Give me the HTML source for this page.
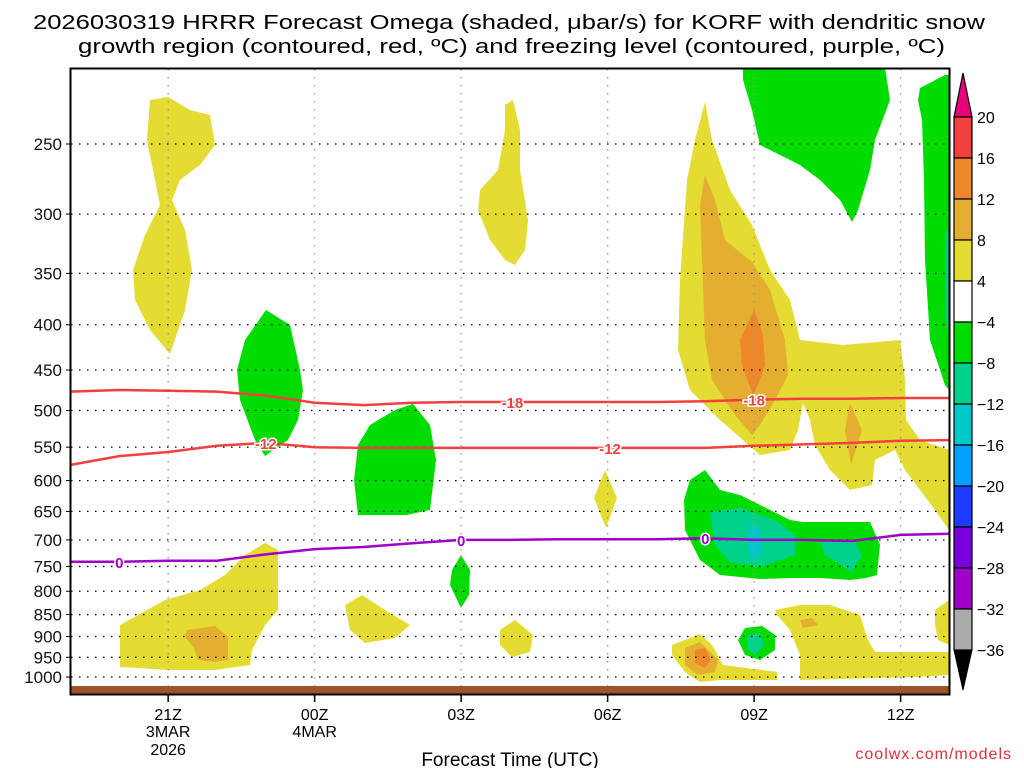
<!DOCTYPE html>
<html><head><meta charset="utf-8"><style>
html,body{margin:0;padding:0;background:#fff;}
svg{display:block;font-family:"Liberation Sans",sans-serif;}
</style></head><body>
<svg id="chart" width="1024" height="768" viewBox="0 0 1024 768" xmlns="http://www.w3.org/2000/svg">
<text x="33" y="29" font-size="20" textLength="952" lengthAdjust="spacingAndGlyphs">2026030319 HRRR Forecast Omega (shaded, μbar/s) for KORF with dendritic snow</text>
<text x="78" y="53" font-size="20" textLength="867" lengthAdjust="spacingAndGlyphs">growth region (contoured, red, ºC) and freezing level (contoured, purple, ºC)</text>
<g id="shades"></g>
<g id="grid"></g>
<g id="lines"></g>
<rect x="71" y="686" width="878" height="8" fill="#a0522d"/>
<rect x="70.5" y="68.5" width="879" height="626" fill="none" stroke="#000" stroke-width="2"/>
<g id="axes"></g>
<g id="cbar"></g>
<text x="510" y="766" font-size="19" text-anchor="middle">Forecast Time (UTC)</text>
<text x="1012" y="759" font-size="16" fill="#e0303a" text-anchor="end" letter-spacing="1">coolwx.com/models</text>
</svg>
<script>
const NS="http://www.w3.org/2000/svg";
// ---- data ----
const hours=[0,1,2,3,4,5,6,7,8,9,10,11,12,13,14,15,16,17,18]; // hours since 19Z
const isoM18=[476,474,475,476,481,490,493,490,489,489,489,489,489,488,486,485,485,484,484];
const isoM12=[576,563,557,548,544,550,551,551,551,551,551,551,551,551,548,546,544,541,540];
const frz0=[741,741,739,739,727,717,713,706,700,700,699,699,699,697,700,700,702,691,689];
const pTicks=[250,300,350,400,450,500,550,600,650,700,750,800,850,900,950,1000];
const xTickHours=[2,5,8,11,14,17];
const xTickLabels=["21Z","00Z","03Z","06Z","09Z","12Z"];
const xSubLabels=[["3MAR","2026"],["4MAR"],[],[],[],[]];
const cbLevels=[20,16,12,8,4,-4,-8,-12,-16,-20,-24,-28,-32,-36];
const cbColors=["#f04040","#ee862a","#e4ae30","#e4dc32","#ffffff","#00dc00","#00d28c","#00c8c8","#00a0ff","#1e3cff","#7800dc","#a000c8","#aaaaaa"];
// ---- axes ----
const X0=70.5,PXH=48.83;
const x=h=>X0+h*PXH;
const y=p=>144+Math.log(p/250)*384.5;
function el(t,a,parent){const e=document.createElementNS(NS,t);for(const k in a)e.setAttribute(k,a[k]);parent.appendChild(e);return e;}
// shading polygons (contoured field regions)
const Y="#e4dc32",DY="#e4ae30",OR="#ee862a",G="#00dc00",T="#00d28c",C="#00c8c8";
const shapes=[
[Y,"150,100 168,97 190,110 210,115 215,145 200,165 180,180 172,200 185,230 192,270 185,310 170,354 150,330 135,300 133,270 145,235 160,205 155,180 147,140"],
[Y,"505,105 513,100 520,130 520,170 528,220 525,250 515,265 505,260 490,240 478,210 480,190 498,170 505,130"],
[G,"266,310 290,325 300,370 303,390 298,420 288,440 265,456 255,440 240,400 237,370 245,340"],
[G,"413,404 430,425 436,460 430,510 406,515 358,515 354,480 358,445 370,425 395,410"],
[G,"461,555 470,570 469,595 461,608 450,585 452,570"],
[Y,"120,625 165,600 200,590 225,575 245,555 265,543 278,550 278,610 265,625 252,650 250,665 215,670 170,670 120,667"],
[DY,"187,630 215,626 228,637 228,660 215,662 198,660 194,648 185,637"],
[Y,"345,605 362,595 385,610 410,625 395,638 365,643 350,630"],
[Y,"500,630 515,620 533,635 530,652 512,657 500,645"],
[Y,"605,470 617,498 606,528 594,498"],
[G,"743,68 885,68 890,100 875,140 870,170 858,210 852,222 840,200 820,180 800,165 760,145 752,110 743,80"],
[G,"920,88 945,75 949,75 949,390 945,385 930,340 925,260 924,180 922,120 918,100"],
[T,"946,235 949,225 949,340 946,320"],
[Y,"705,102 712,140 730,190 752,225 770,270 790,300 800,340 843,345 900,340 905,380 906,420 920,440 949,450 949,530 935,510 920,490 905,470 895,450 875,460 872,485 850,490 830,470 815,445 810,420 803,403 798,430 790,450 760,455 720,420 690,390 678,350 680,280 687,180 695,140"],
[DY,"705,175 715,200 725,240 752,262 770,290 785,340 788,375 775,400 760,425 752,435 735,415 712,380 705,340 702,260 700,205"],
[OR,"754,310 763,335 765,365 758,385 753,395 742,365 740,340"],
[DY,"850,403 862,430 851,465 845,430"],
[G,"705,470 720,490 740,495 790,520 803,522 870,522 880,545 877,575 866,578 850,580 820,578 792,578 760,579 720,575 700,560 685,530 684,500 690,480"],
[T,"710,512 740,508 775,520 795,535 795,555 760,567 730,562 715,545"],
[C,"748,525 760,527 762,555 752,560 748,550"],
[T,"820,542 855,542 862,555 852,572 825,555"],
[Y,"775,610 800,605 830,605 860,615 868,640 875,652 949,652 949,675 915,677 800,680 800,655 790,630 777,615"],
[DY,"800,620 812,618 818,625 803,628"],
[Y,"935,610 949,600 949,645 938,640 935,625"],
[Y,"672,645 700,634 712,645 723,665 777,672 777,680 720,680 700,682 685,672 672,655"],
[DY,"685,648 700,642 718,660 715,672 698,675 685,665"],
[OR,"695,650 705,648 711,660 705,668 695,663"],
[G,"745,628 762,626 775,635 775,650 760,660 745,655 738,640"],
[T,"748,635 760,633 764,645 755,655 747,648"]
];
const sh=document.getElementById('shades');
shapes.forEach((s,i)=>{const p=el('polygon',{points:s[1],fill:s[0]},sh);

});
// grid
const gr=document.getElementById('grid');
pTicks.forEach(p=>{const l=el('line',{x1:71,x2:949,y1:y(p),y2:y(p),stroke:"#000","stroke-width":1.3,"stroke-dasharray":"1.5 6.5"},gr);

});
xTickHours.forEach(h=>{const l=el('line',{x1:x(h),x2:x(h),y1:69,y2:686,stroke:"#999","stroke-width":1.3,"stroke-dasharray":"1.5 6.5"},gr);

});
// contour lines
const ln=document.getElementById('lines');
function drawLine(arr,color,name,labels){
 const d=arr.map((p,i)=>(i?'L':'M')+x(hours[i]).toFixed(1)+','+y(p).toFixed(1)).join(' ');
 const pa=el('path',{d:d,fill:'none',stroke:color,'stroke-width':2.5},ln);
 
 
 labels.forEach(lb=>{const h=lb[0];const i=Math.floor(h);const f=h-i;
  const p=arr[i]+(arr[Math.min(i+1,arr.length-1)]-arr[i])*f;
  el('rect',{x:x(h)-12,y:y(p)-7,width:24,height:14,fill:'#fff','fill-opacity':0},ln);
  const t=el('text',{x:x(h),y:y(p)+6,'font-size':15,'font-weight':'bold',fill:color,'text-anchor':'middle',stroke:'#fff','stroke-width':3,'paint-order':'stroke'},ln);
  t.textContent=lb[1];
  
  });
}
drawLine(isoM18,'#f04040','isotherm-minus18',[[9.05,'-18'],[14.0,'-18']]);
drawLine(isoM12,'#f04040','isotherm-minus12',[[4.0,'-12'],[11.05,'-12']]);
drawLine(frz0,'#a000c8','freezing-level',[[1.0,'0'],[8.0,'0'],[13.0,'0']]);
// axes labels
const ax=document.getElementById('axes');
pTicks.forEach(p=>{const t=el('text',{x:62,y:y(p)+6,'font-size':17,'text-anchor':'end',fill:'#111'},ax);t.textContent=p;


el('line',{x1:66,x2:71,y1:y(p),y2:y(p),stroke:'#000'},ax);});
xTickHours.forEach((h,i)=>{el('line',{x1:x(h),x2:x(h),y1:694,y2:702,stroke:'#000','stroke-width':1.5},ax);
 const t=el('text',{x:x(h),y:720,'font-size':16,'text-anchor':'middle'},ax);t.textContent=xTickLabels[i];
 
 
 xSubLabels[i].forEach((s,j)=>{const u=el('text',{x:x(h),y:737+j*18,'font-size':16,'text-anchor':'middle'},ax);u.textContent=s;
 
 });});
// colorbar
const cb=document.getElementById('cbar');
const CB0=117,CBH=41.0,cx=954,cw=18;
el('polygon',{points:`${cx},${CB0} ${cx+cw},${CB0} ${cx+cw/2},${CB0-44}`,fill:'#e8007a',stroke:'#000','stroke-width':1.2},cb);
cbColors.forEach((c,i)=>{const r=el('rect',{x:cx,y:CB0+i*CBH,width:cw,height:CBH,fill:c,stroke:'#000','stroke-width':1.2},cb);

});
const bot=CB0+cbColors.length*CBH;
el('polygon',{points:`${cx},${bot} ${cx+cw},${bot} ${cx+cw/2},${bot+40}`,fill:'#000',stroke:'#000'},cb);
cbLevels.forEach((v,i)=>{const t=el('text',{x:977,y:CB0+i*CBH+6,'font-size':16},cb);
t.textContent=v<0?'\u2212'+(-v):v;

});
</script>
</body></html>
